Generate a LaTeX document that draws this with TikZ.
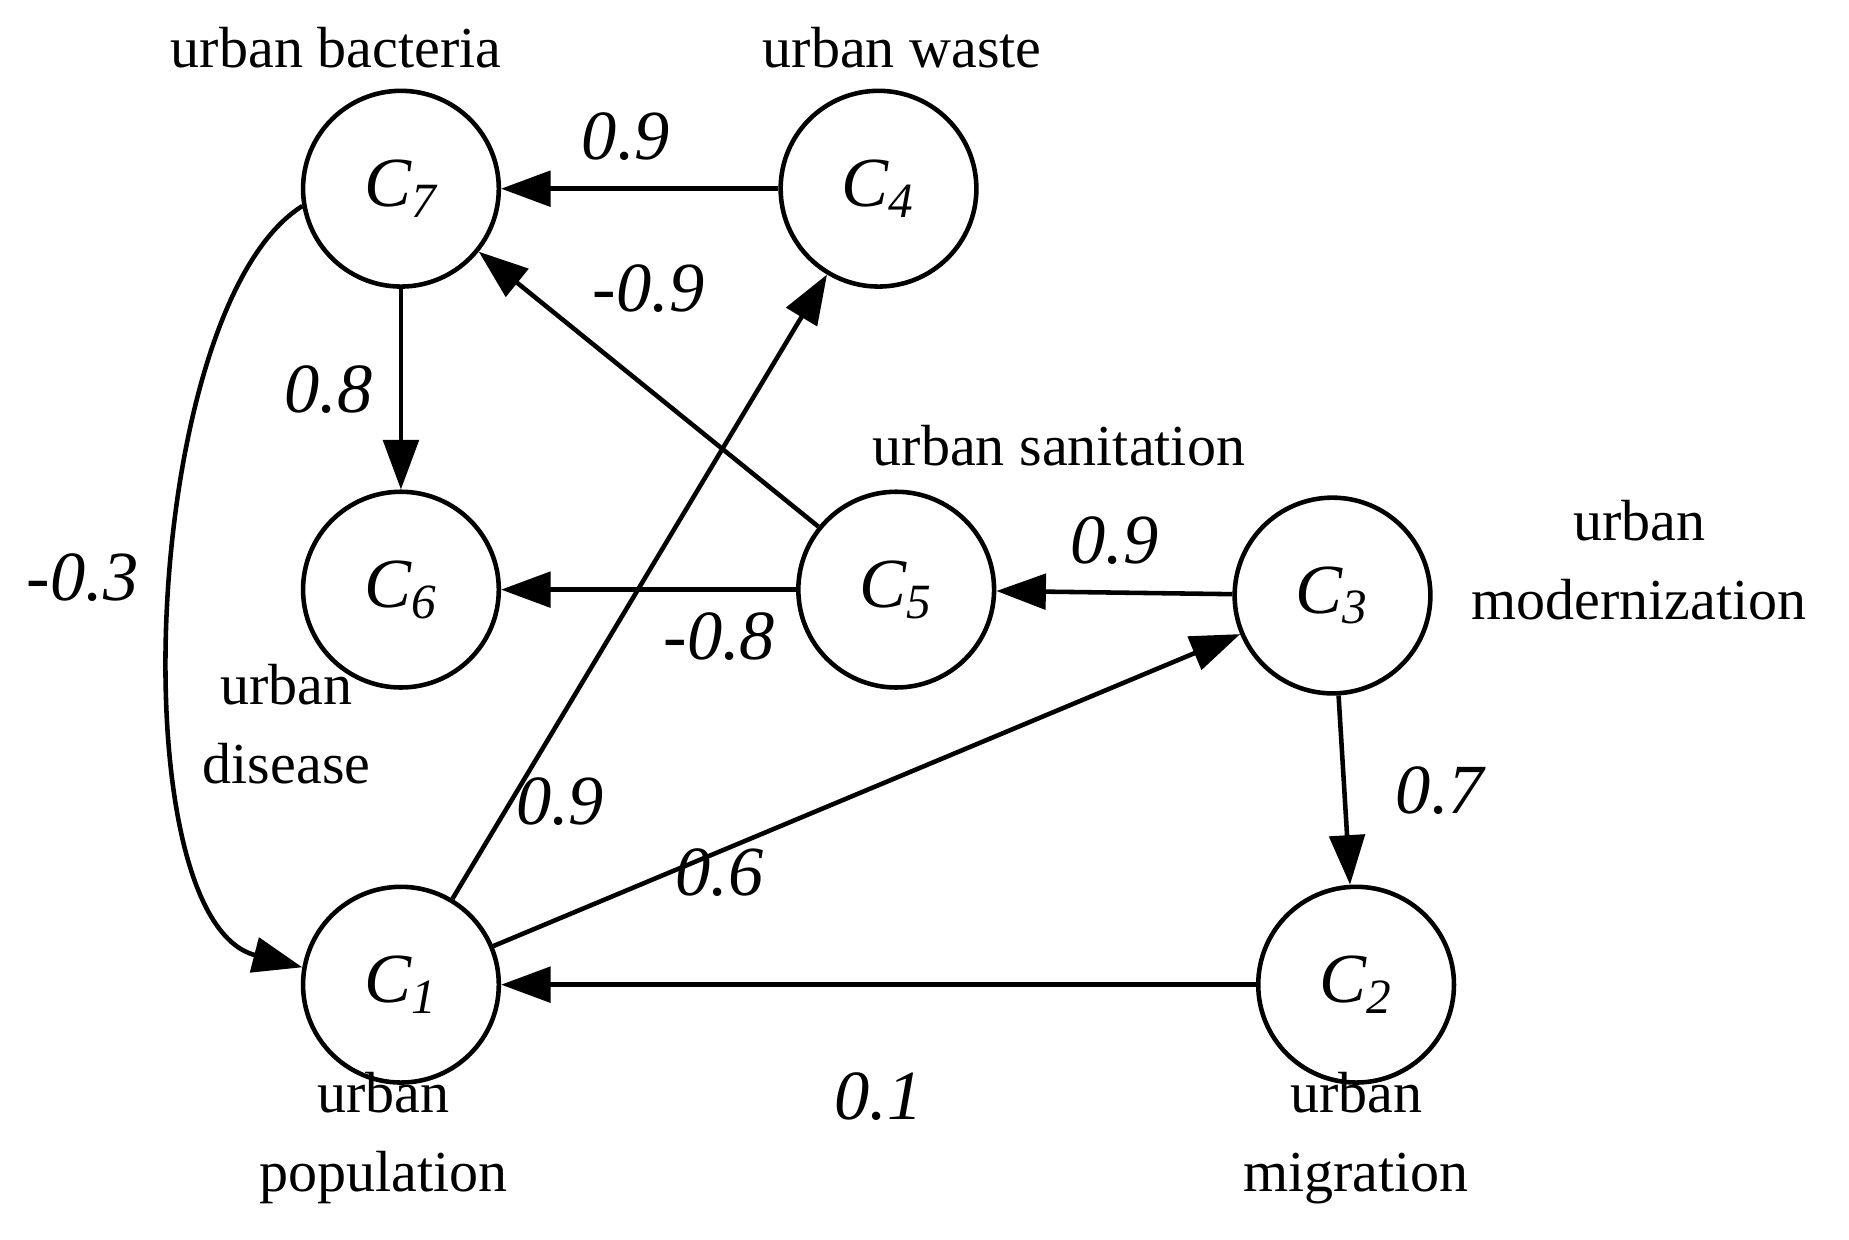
\documentclass[tikz,border=0pt]{standalone}
\usepackage{fontspec}
\setmainfont{Liberation Serif}
\usetikzlibrary{arrows.meta}
\begin{document}
\begin{tikzpicture}[
  cn/.style={circle,draw,line width=1.1pt,minimum size=1.66cm,inner sep=0pt,font=\fontsize{17}{17}\selectfont\itshape},
  lab/.style={font=\fontsize{14}{19}\selectfont,align=center},
  w/.style={font=\fontsize{17}{17}\selectfont\itshape},
  ed/.style={line width=1.1pt,-{Triangle[length=0.42cm,width=0.3cm]}}]
\useasboundingbox (0,0) rectangle (15.68,-10.507);
\node[cn] (c7) at (3.40,-1.60) {C\textsubscript{7}};
\node[cn] (c4) at (7.45,-1.60) {C\textsubscript{4}};
\node[cn] (c6) at (3.40,-5.00) {C\textsubscript{6}};
\node[cn] (c5) at (7.60,-5.00) {C\textsubscript{5}};
\node[cn] (c3) at (11.30,-5.05) {C\textsubscript{3}};
\node[cn] (c1) at (3.40,-8.35) {C\textsubscript{1}};
\node[cn] (c2) at (11.50,-8.35) {C\textsubscript{2}};
\node[lab] (l7) at (2.85,-0.40) {urban bacteria};
\node[lab] (l4) at (7.65,-0.40) {urban waste};
\node[lab] (l5) at (8.98,-3.78) {urban sanitation};
\node[lab] (l3) at (13.90,-4.75) {urban\\modernization};
\node[lab] (l6) at (2.43,-6.14) {urban\\disease};
\node[lab] (l1) at (3.25,-9.65) {urban\\population};
\node[lab] (l2) at (11.50,-9.65) {urban\\migration};
\draw[ed] (c4) -- (c7) node[w,pos=0.55,above=3pt] {0.9};
\draw[ed] (c5) -- (c7);
\node[w] (e57) at (5.50,-2.45) {-0.9};
\draw[ed] (c7) -- (c6) node[w,midway,left=3pt] {0.8};
\draw[ed] (c5) -- (c6);
\node[w] (e56) at (6.10,-5.40) {-0.8};
\draw[ed] (c3) -- (c5) node[w,midway,above=3pt] {0.9};
\draw[ed] (c1) -- (c4);
\node[w] (e14) at (4.75,-6.80) {0.9};
\draw[ed] (c1) -- (c3);
\node[w] (e13) at (6.10,-7.40) {0.6};
\draw[ed] (c3) -- (c2) node[w,midway,right=0.3cm] {0.7};
\draw[ed] (c2) -- (c1);
\node[w] (e21) at (7.45,-9.30) {0.1};
\draw[ed] (c7.190) .. controls (1.2,-2.6) and (1.0,-7.8) .. (c1.170);
\node[w] (e71) at (0.70,-4.90) {-0.3};
\end{tikzpicture}
\end{document}
